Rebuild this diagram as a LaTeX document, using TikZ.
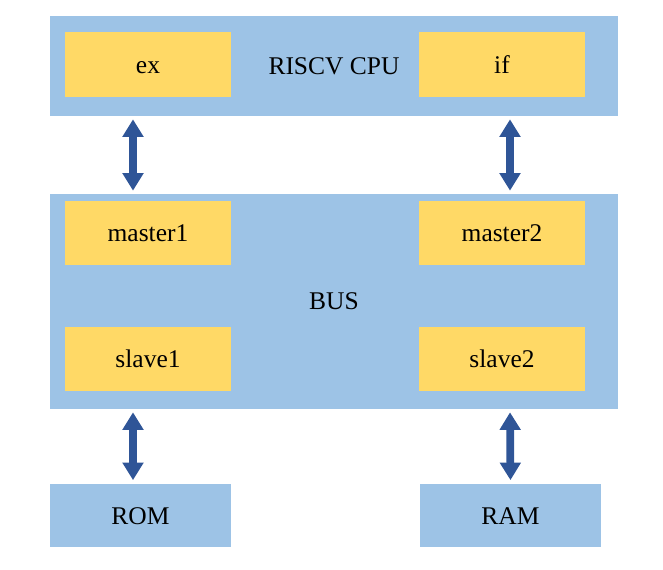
\documentclass[tikz,border=0pt]{standalone}
\usepackage{fontspec}
\setmainfont{Liberation Serif}
\usetikzlibrary{arrows.meta}
\definecolor{busblue}{HTML}{9DC3E6}
\definecolor{portyellow}{HTML}{FFD966}
\definecolor{linkblue}{HTML}{2F5597}
\tikzset{
  label text/.style={font=\fontsize{14.5}{17}\selectfont,text height=12pt,text depth=2pt},
  unit/.style={fill=busblue,inner sep=0pt,label text},
  port/.style={fill=portyellow,inner sep=0pt,minimum width=3.32cm,minimum height=1.3cm,
    label text},
  link/.style={linkblue,line width=4.4pt,shorten <=0.06cm,shorten >=0.06cm,
    {Triangle[width=11.5pt,length=10pt]}-{Triangle[width=11.5pt,length=10pt]}},
}
\begin{document}
\begin{tikzpicture}[x=0.02cm,y=-0.02cm]
\useasboundingbox (0,0) rectangle (663,570);

% cpu
\node [unit,minimum width=11.36cm,minimum height=2cm] (cpu) at (334,66) {};
\node [label text] (cpulbl) at (334,66) {RISCV CPU};
\node [port] (ex) at (148,64.5) {ex};
\node [port] (if) at (502,64.5) {if};

% bus
\node [unit,minimum width=11.36cm,minimum height=4.3cm] (bus) at (334,301.5) {};
\node [label text] (buslbl) at (334,301) {BUS};
\node [port] (master1) at (148,233) {master1};
\node [port] (master2) at (502,233) {master2};
\node [port] (slave1) at (148,359) {slave1};
\node [port] (slave2) at (502,359) {slave2};

% memories
\node [unit,minimum width=3.62cm,minimum height=1.28cm] (rom) at (140.5,515.5) {ROM};
\node [unit,minimum width=3.62cm,minimum height=1.28cm] (ram) at (510.5,515.5) {RAM};

\draw [link] (cpu.south -| 133,0) -- (bus.north -| 133,0);
\draw [link] (cpu.south -| 510,0) -- (bus.north -| 510,0);
\draw [link] (bus.south -| 133,0) -- (rom.north -| 133,0);
\draw [link] (bus.south -| 510,0) -- (ram.north);
\end{tikzpicture}
\end{document}
